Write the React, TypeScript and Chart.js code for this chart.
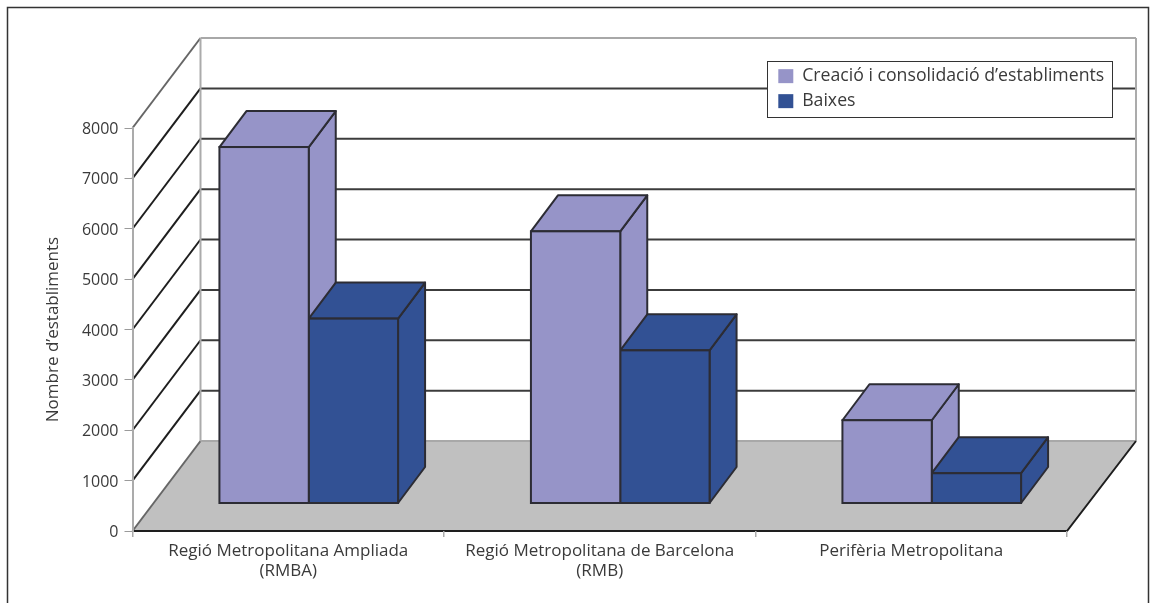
import React, { useEffect, useRef } from "react";
import { Chart, registerables } from "chart.js";

Chart.register(...registerables);

const categories: (string | string[])[] = [
  ["Regió Metropolitana Ampliada", "(RMBA)"],
  ["Regió Metropolitana de Barcelona", "(RMB)"],
  "Perifèria Metropolitana",
];
const creacio = [7076, 5403, 1653];
const baixes = [3670, 3040, 601];
const seriesNames = ["Creació i consolidació d’establiments", "Baixes"];
const seriesColors = ["#9694C8", "#325194"];

const FONT = "'Open Sans', 'Noto Sans', sans-serif";
const TEXT = "#3a3a3a";
const EDGE = "#2c2c34";
const WALL_DX = 68;
const WALL_DY = 90;
const BAR_OFF_X = 20.5;
const BAR_OFF_Y = 27.5;
const TOP_DX = 27;
const TOP_DY = 36;

function line(ctx: CanvasRenderingContext2D, pts: number[][], color: string, w: number) {
  ctx.beginPath();
  pts.forEach((p, i) => (i ? ctx.lineTo(p[0], p[1]) : ctx.moveTo(p[0], p[1])));
  ctx.strokeStyle = color;
  ctx.lineWidth = w;
  ctx.stroke();
}

function poly(ctx: CanvasRenderingContext2D, pts: number[][], fill: string) {
  ctx.beginPath();
  pts.forEach((p, i) => (i ? ctx.lineTo(p[0], p[1]) : ctx.moveTo(p[0], p[1])));
  ctx.closePath();
  ctx.fillStyle = fill;
  ctx.fill();
  ctx.strokeStyle = EDGE;
  ctx.lineWidth = 2;
  ctx.lineJoin = "round";
  ctx.stroke();
}

const scene3d = {
  id: "scene3d",
  beforeDraw(chart: any) {
    const { ctx, chartArea: a, scales } = chart;
    const y = scales.y;
    ctx.save();
    // outer frame
    line(ctx, [[7.5, 603], [7.5, 7.5], [1148.5, 7.5], [1148.5, 603]], "#333333", 1.5);
    // floor
    ctx.beginPath();
    ctx.moveTo(a.left, a.bottom);
    ctx.lineTo(a.left + WALL_DX, a.bottom - WALL_DY);
    ctx.lineTo(a.right + WALL_DX + 1, a.bottom - WALL_DY);
    ctx.lineTo(a.right, a.bottom);
    ctx.closePath();
    ctx.fillStyle = "#C0C0C0";
    ctx.fill();
    // walls and grid
    for (const t of y.ticks) {
      const py = y.getPixelForValue(t.value);
      const grey = t.value === y.max || t.value === 0;
      line(ctx, [[a.left, py], [a.left + WALL_DX, py - WALL_DY]], grey ? "#666666" : "#1e1e1e", 2);
      line(ctx, [[a.left + WALL_DX, py - WALL_DY], [a.right + WALL_DX + 1, py - WALL_DY]], grey ? "#A8A8A8" : "#3c3c3c", 2);
    }
    line(ctx, [[a.left + WALL_DX, a.top - WALL_DY], [a.left + WALL_DX, a.bottom - WALL_DY]], "#ABABAB", 2);
    line(ctx, [[a.right + WALL_DX + 1, a.top - WALL_DY], [a.right + WALL_DX + 1, a.bottom - WALL_DY]], "#ABABAB", 2);
    line(ctx, [[a.left, a.bottom], [a.right, a.bottom], [a.right + WALL_DX + 1, a.bottom - WALL_DY]], "#1e1e1e", 2);
    // legend box
    ctx.fillStyle = "#FFFFFF";
    ctx.fillRect(767.5, 61.5, 345, 56);
    ctx.strokeStyle = "#333333";
    ctx.lineWidth = 1;
    ctx.strokeRect(767.5, 61.5, 345, 56);
    ctx.restore();
  },
  afterLayout(chart: any) {
    const l = chart.legend;
    if (l) {
      l.left = 771;
      l.top = 60;
      l.width = 342;
      l.right = 1113;
      l.height = 60;
      l.bottom = 120;
    }
  },
  beforeDatasetsDraw(chart: any) {
    const ctx = chart.ctx;
    ctx.save();
    ctx.translate(BAR_OFF_X, -BAR_OFF_Y);
    chart.data.datasets.forEach((ds: any, i: number) => {
      chart.getDatasetMeta(i).data.forEach((el: any) => {
        const p = el.getProps(["x", "y", "base", "width"], true);
        const l = p.x - p.width / 2;
        const r = p.x + p.width / 2;
        poly(ctx, [[r, p.y], [r + TOP_DX, p.y - TOP_DY], [r + TOP_DX, p.base - TOP_DY], [r, p.base]], ds.backgroundColor);
        poly(ctx, [[l, p.y], [l + TOP_DX, p.y - TOP_DY], [r + TOP_DX, p.y - TOP_DY], [r, p.y]], ds.backgroundColor);
      });
    });
    ctx.restore();
  },
  beforeDatasetDraw(chart: any) {
    chart.ctx.save();
    chart.ctx.translate(BAR_OFF_X, -BAR_OFF_Y);
  },
  afterDatasetDraw(chart: any, args: any) {
    const ctx = chart.ctx;
    args.meta.data.forEach((el: any) => {
      const p = el.getProps(["x", "y", "base", "width"], true);
      ctx.strokeStyle = EDGE;
      ctx.lineWidth = 2;
      ctx.strokeRect(p.x - p.width / 2, p.y, p.width, p.base - p.y);
    });
    ctx.restore();
  },
};

export default function App() {
  const ref = useRef<HTMLCanvasElement>(null);
  useEffect(() => {
    const chart = new Chart(ref.current!, {
      type: "bar",
      plugins: [scene3d],
      data: {
        labels: categories as any,
        datasets: [creacio, baixes].map((d, i) => ({
          label: seriesNames[i],
          data: d,
          backgroundColor: seriesColors[i],
          borderWidth: 0,
          barPercentage: 1,
          categoryPercentage: 0.5735,
          clip: false,
        })),
      },
      options: {
        responsive: false,
        animation: false,
        events: [],
        layout: { padding: { top: 128, right: 83, left: 0, bottom: 0 } },
        plugins: {
          tooltip: { enabled: false },
          legend: {
            position: "chartArea" as any,
            align: "start",
            maxWidth: 342,
            labels: {
              boxWidth: 15,
              boxHeight: 14,
              padding: 7.3,
              color: TEXT,
              font: { family: FONT, size: 17.7 },
              generateLabels: (c: any) =>
                Chart.defaults.plugins.legend.labels.generateLabels(c).map((it: any) => ({ ...it, lineWidth: 0 })),
            },
          },
        },
        scales: {
          x: {
            afterFit: (s: any) => { s.height = 72; },
            grid: { display: true, drawOnChartArea: false, drawTicks: true, tickLength: 6, color: "#ABABAB", lineWidth: 1.5 },
            border: { display: false },
            ticks: { color: TEXT, font: { family: FONT, size: 17, lineHeight: 1.18 }, padding: 4, maxRotation: 0, autoSkip: false },
          },
          y: {
            min: 0,
            max: 8000,
            afterFit: (s: any) => { s.width = 132.5; },
            grid: { display: true, drawOnChartArea: false, drawTicks: true, tickLength: 8, color: "#9a9a9a", lineWidth: 1 },
            border: { display: true, color: "#ABABAB", width: 2 },
            ticks: { stepSize: 1000, color: TEXT, font: { family: FONT, size: 16 }, padding: 6, labelOffset: 1.5, callback: (v: any) => String(v) },
            title: {
              display: true,
              text: "Nombre d’establiments",
              color: TEXT,
              font: { family: FONT, size: 17 },
              padding: { top: 43, bottom: 0 },
            },
          },
        },
      },
    } as any);
    return () => chart.destroy();
  }, []);
  return (
    <div style={{ position: "absolute", left: 0, top: 0, width: 1150, height: 603, background: "#fff" }}>
      <canvas ref={ref} width={1150} height={603} style={{ display: "block" }} />
    </div>
  );
}
